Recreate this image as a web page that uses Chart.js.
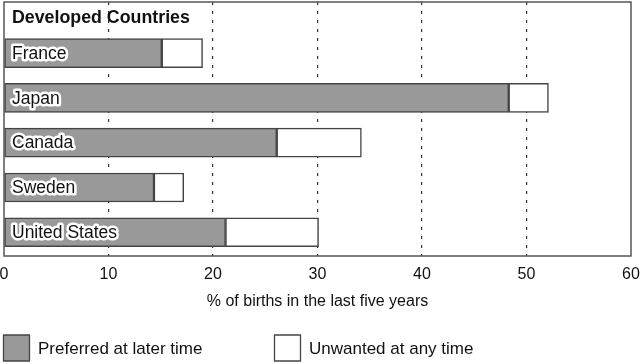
<!DOCTYPE html>
<html>
<head>
<meta charset="utf-8">
<script src="https://cdn.jsdelivr.net/npm/chart.js@4"></script>
<style>
  html, body { margin: 0; padding: 0; background: #fff; }
</style>
</head>
<body>
<canvas id="myChart" width="640" height="364"></canvas>
<script>
// values
const countries = ["France", "Japan", "Canada", "Sweden", "United States"];
const preferredLater = [15.1, 48.3, 26.1, 14.35, 21.2];
const unwantedAny = [3.9, 3.8, 8.1, 2.85, 8.9];
const xTicks = [0, 10, 20, 30, 40, 50, 60];

const FONT = "'Liberation Sans', Arial, sans-serif";
const INK = "#111";

// row position = index in countries (1..5); the space above row 1 holds the title
function rows(values) {
  return values.map((v, i) => ({ x: v, y: i + 1 }));
}

const frameAndLabels = {
  id: "frameAndLabels",
  afterDraw(chart) {
    const ctx = chart.ctx;
    const area = chart.chartArea;
    const y = chart.scales.y;
    ctx.save();
    // plot frame
    ctx.strokeStyle = "#555";
    ctx.lineWidth = 1.5;
    ctx.strokeRect(area.left, area.top, area.right - area.left, area.bottom - area.top);

    // panel title inside the frame
    ctx.font = "bold 17.8px " + FONT;
    ctx.fillStyle = INK;
    ctx.textBaseline = "middle";
    ctx.fillText("Developed Countries", area.left + 8, area.top + 16);

    // country names with a white halo
    ctx.font = "17.5px " + FONT;
    ctx.lineJoin = "round";
    countries.forEach((name, i) => {
      const py = y.getPixelForValue(i + 1);
      ctx.strokeStyle = "#fff";
      ctx.lineWidth = 5;
      ctx.strokeText(name, area.left + 8, py + 1);
      ctx.fillStyle = INK;
      ctx.fillText(name, area.left + 8, py + 1);
    });

    // legend
    const ly = 335;
    const items = [
      { text: "Preferred at later time", fill: "#999999", x: 3.5 },
      { text: "Unwanted at any time", fill: "#ffffff", x: 274.5 },
    ];
    ctx.font = "17px " + FONT;
    items.forEach((it) => {
      ctx.fillStyle = it.fill;
      ctx.fillRect(it.x, ly, 26, 26);
      ctx.strokeStyle = "#444";
      ctx.lineWidth = 1.3;
      ctx.strokeRect(it.x, ly, 26, 26);
      ctx.fillStyle = INK;
      ctx.fillText(it.text, it.x + 34.5, ly + 14);
    });
    ctx.restore();
  },
};

new Chart(document.getElementById("myChart"), {
  type: "bar",
  data: {
    datasets: [
      {
        label: "Preferred at later time",
        data: rows(preferredLater),
        backgroundColor: "#999999",
        borderColor: "#444",
        borderWidth: 1.5,
        borderSkipped: false,
        barThickness: 29,
      },
      {
        label: "Unwanted at any time",
        data: rows(unwantedAny),
        backgroundColor: "#ffffff",
        borderColor: "#444",
        borderWidth: 1.5,
        borderSkipped: false,
        barThickness: 29,
      },
    ],
  },
  options: {
    indexAxis: "y",
    responsive: false,
    animation: false,
    layout: { padding: { left: 4, right: 9, top: 2, bottom: 48 } },
    plugins: { legend: { display: false }, tooltip: { enabled: false } },
    scales: {
      x: {
        type: "linear",
        stacked: true,
        min: 0,
        max: 60,
        afterBuildTicks(scale) {
          scale.ticks = xTicks.map((v) => ({ value: v }));
        },
        afterFit(scale) {
          scale.height = 60;
          scale.paddingLeft = 0;
          scale.paddingRight = 0;
        },
        grid: {
          color: (c) => (c.tick.value === 0 || c.tick.value === 60 ? "rgba(0,0,0,0)" : "#333"),
          lineWidth: 1.2,
          drawTicks: false,
        },
        border: { display: false, dash: [3, 6] },
        ticks: {
          color: INK,
          padding: 9,
          font: { family: FONT, size: 16 },
          maxRotation: 0,
        },
        title: {
          display: true,
          text: "% of births in the last five years",
          color: INK,
          font: { family: FONT, size: 16 },
          padding: { top: 0, bottom: 5 },
        },
      },
      y: {
        type: "linear",
        stacked: true,
        reverse: true,
        offset: false,
        min: -0.14,
        max: 5.53,
        display: false,
      },
    },
  },
  plugins: [frameAndLabels],
});
</script>
</body>
</html>
